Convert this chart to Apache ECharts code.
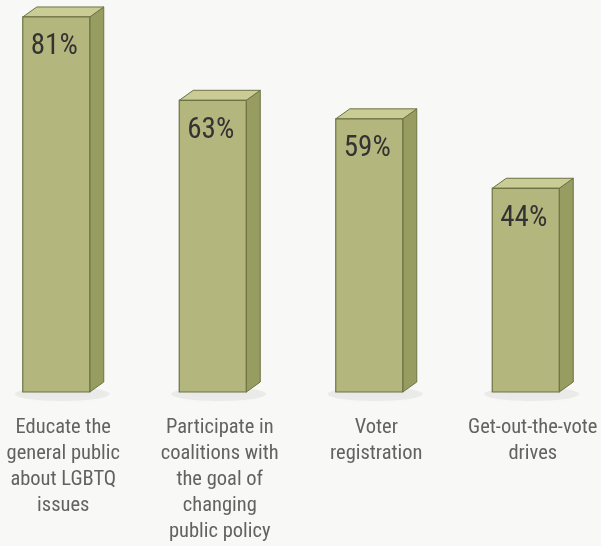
<!DOCTYPE html>
<html><head><meta charset="utf-8">
<script src="https://cdn.jsdelivr.net/npm/echarts@6/dist/echarts.min.js"></script>
<style>html,body{margin:0;padding:0;background:#f8f8f6;}#c{width:601px;height:546px;}</style>
</head><body><div id="c"></div>
<script>
var categories = ['Educate the\ngeneral public\nabout LGBTQ\nissues', 'Participate in\ncoalitions with\nthe goal of\nchanging\npublic policy', 'Voter\nregistration', 'Get-out-the-vote\ndrives'];
var values = [81, 63, 59, 44];
var FONT = '"Roboto Condensed", Roboto, sans-serif';
var chart = echarts.init(document.getElementById('c'));
chart.setOption({
  backgroundColor: '#f8f8f6',
  animation: false,
  grid: {left: -15, right: -10, top: -71, bottom: 154, containLabel: false, outerBoundsMode: 'none'},
  xAxis: {type: 'category', data: categories, axisLine: {show: false}, axisTick: {show: false},
    axisLabel: {color: '#626262', fontFamily: FONT, fontSize: 20.5, lineHeight: 26, margin: 23, interval: 0}},
  yAxis: {type: 'value', min: 0, max: 100, show: false, splitLine: {show: false}},
  series: [{
    type: 'custom',
    clip: false,
    data: values.map(function(v, i){ return [i, v]; }),
    renderItem: function(params, api){
      var i = api.value(0), v = api.value(1);
      var top = api.coord([i, v]);
      var base = api.coord([i, 0]);
      var fw = 67, dx = 14, dy = 10;
      var x0 = top[0] - (fw + dx) / 2, x1 = x0 + fw;
      var yt = top[1], yb = base[1];
      var stroke = '#6e7344';
      return {type: 'group', children: [
        {type: 'ellipse', shape: {cx: x0 + fw/2 + 6, cy: yb + 2, rx: fw/2 + 14, ry: 7},
          style: {fill: 'rgba(0,0,0,0.05)', shadowBlur: 12, shadowColor: 'rgba(0,0,0,0.2)'}},
        {type: 'polygon', shape: {points: [[x1, yt], [x1 + dx, yt - dy], [x1 + dx, yb - dy], [x1, yb]]},
          style: {fill: '#979c60', stroke: stroke, lineWidth: 1}},
        {type: 'polygon', shape: {points: [[x0, yt], [x0 + dx, yt - dy], [x1 + dx, yt - dy], [x1, yt]]},
          style: {fill: '#cacc95', stroke: stroke, lineWidth: 1}},
        {type: 'rect', shape: {x: x0, y: yt, width: fw, height: yb - yt},
          style: {fill: '#b4b77d', stroke: stroke, lineWidth: 1.2}},
        {type: 'text', x: x0 + fw/2 - 2, y: yt + 30,
          style: {text: v + '%', fill: '#333', fontFamily: FONT, fontSize: 29, align: 'center', verticalAlign: 'middle'}}
      ]};
    }
  }]
});
</script></body></html>
